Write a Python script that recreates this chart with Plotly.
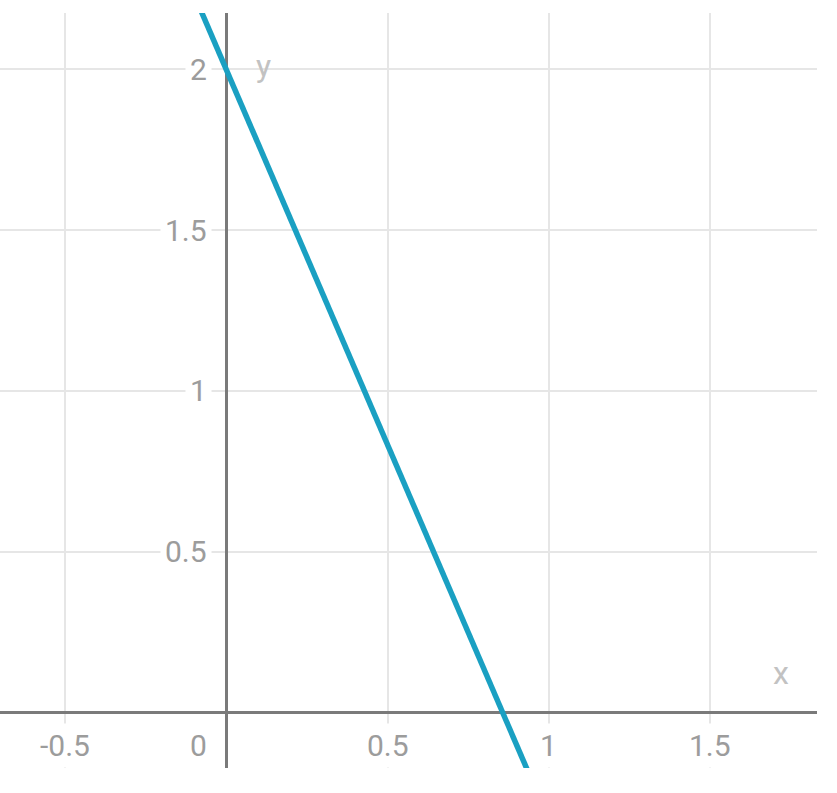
import plotly.graph_objects as go

# data
line_x = [-0.3, 1.2]
line_y = [2.7, -0.8]
x_ticks = [-0.5, 0.5, 1, 1.5]
x_tick_labels = ["-0.5", "0.5", "1", "1.5"]
y_ticks = [0.5, 1, 1.5, 2]
y_tick_labels = ["0.5", "1", "1.5", "2"]
grid_x = [-0.5, 0, 0.5, 1, 1.5]
grid_y = [0, 0.5, 1, 1.5, 2]

TICK_COLOR = "#9c9c9c"
TITLE_COLOR = "#c2c2c2"
FONT = "Roboto"

fig = go.Figure()
fig.add_trace(go.Scatter(x=line_x, y=line_y, mode="lines",
                         line=dict(color="#1aa0c2", width=5.5),
                         hoverinfo="skip", showlegend=False))

ann = []
for v, t in zip(x_ticks, x_tick_labels):
    ann.append(dict(x=v, y=0, xref="x", yref="y", text=t, showarrow=False,
                    xanchor="center", yanchor="middle", yshift=-33,
                    font=dict(family=FONT, size=30, color=TICK_COLOR),
                    bgcolor="white", borderpad=4))
for v, t in zip(y_ticks, y_tick_labels):
    ann.append(dict(x=0, y=v, xref="x", yref="y", text=t, showarrow=False,
                    xanchor="right", yanchor="middle", xshift=-14,
                    font=dict(family=FONT, size=30, color=TICK_COLOR),
                    bgcolor="white", borderpad=4))
ann.append(dict(x=0, y=0, xref="x", yref="y", text="0", showarrow=False,
                xanchor="right", yanchor="middle", xshift=-14, yshift=-33,
                font=dict(family=FONT, size=30, color=TICK_COLOR),
                bgcolor="white", borderpad=4))
ann.append(dict(x=1.72, y=0, xref="x", yref="y", text="x", showarrow=False,
                xanchor="center", yanchor="middle", yshift=40,
                font=dict(family=FONT, size=32, color=TITLE_COLOR)))
ann.append(dict(x=0, y=2, xref="x", yref="y", text="y", showarrow=False,
                xanchor="center", yanchor="middle", xshift=37, yshift=3,
                font=dict(family=FONT, size=32, color=TITLE_COLOR)))

fig.update_layout(
    width=837, height=793,
    margin=dict(l=0, r=20, t=13, b=25),
    paper_bgcolor="white", plot_bgcolor="white",
    annotations=ann,
    xaxis=dict(range=[-0.70, 1.83], tickvals=grid_x, showticklabels=False,
               showgrid=True, gridcolor="#e6e6e6", gridwidth=1.5,
               zeroline=True, zerolinecolor="#7a7a7a", zerolinewidth=3,
               showline=False, fixedrange=True),
    yaxis=dict(range=[-0.171, 2.174], tickvals=grid_y, showticklabels=False,
               showgrid=True, gridcolor="#e6e6e6", gridwidth=1.5,
               zeroline=True, zerolinecolor="#7a7a7a", zerolinewidth=3,
               showline=False, fixedrange=True),
)

fig.write_html("out.html", config={"displayModeBar": False},
               post_script="document.body.style.margin='0';document.body.style.overflow='hidden';")
